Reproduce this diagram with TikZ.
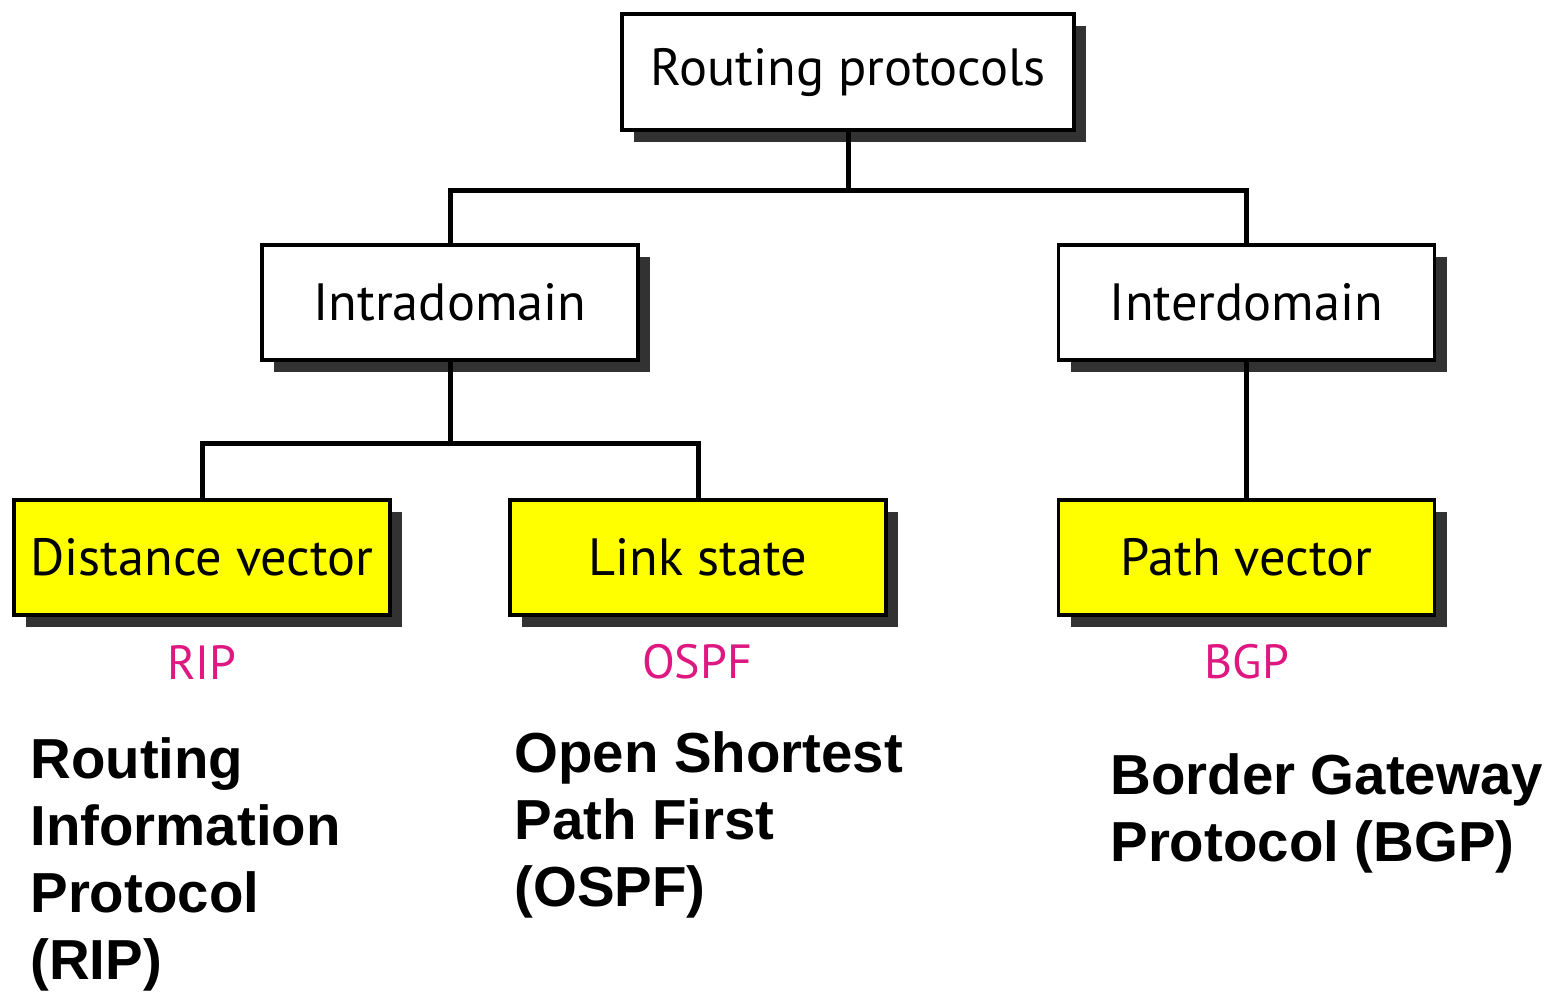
\documentclass[tikz,border=0pt]{standalone}
\usepackage{fontspec}
\setmainfont{PT Sans}
\newfontfamily\notefont{Liberation Sans}
\usetikzlibrary{shadows}
\definecolor{boxyellow}{RGB}{255,255,0}
\definecolor{protopink}{RGB}{222,24,128}
\definecolor{shadowgray}{RGB}{50,50,50}
\begin{document}
\begin{tikzpicture}[x=0.5pt,y=-0.5pt,
  box/.style={draw=black, line width=1.9pt, fill=white, inner sep=0pt,
    minimum width=188pt, minimum height=57.5pt,
    font=\fontsize{26.2pt}{30pt}\selectfont,
    drop shadow={shadow xshift=6pt, shadow yshift=-6pt, fill=shadowgray, opacity=1}},
  techbox/.style={box, fill=boxyellow},
  wire/.style={line width=2.5pt, line cap=rect},
  proto/.style={text=protopink, font=\fontsize{24pt}{28pt}\selectfont, inner sep=0pt},
  note/.style={font=\notefont\bfseries\fontsize{28.2pt}{33.5pt}\selectfont,
    align=left, anchor=north west, inner sep=0pt}]
  \useasboundingbox (0,0) rectangle (1550,992);

  % hierarchy of boxes
  \node[box, minimum width=226pt, minimum height=58pt] (root) at (848,72) {Routing protocols};
  \node[box] (intra) at (450,302.5) {Intradomain};
  \node[box] (inter) at (1246.5,302.5) {Interdomain};
  \node[techbox] (dv) at (202,557.5) {Distance vector};
  \node[techbox] (ls) at (698,557.5) {Link state};
  \node[techbox] (pv) at (1246.5,557.5) {Path vector};

  % tree connectors
  \coordinate (j1) at (848,190);
  \coordinate (j2) at (450,443);
  \draw[wire] (root.south) -- (j1);
  \draw[wire] (intra.north) |- (j1) -| (inter.north);
  \draw[wire] (intra.south) -- (j2);
  \draw[wire] (dv.north) |- (j2) -| (ls.north);
  \draw[wire] (inter.south) -- (pv.north);

  % protocol names
  \node[proto] (rip) at (202,662) {RIP};
  \node[proto] (ospf) at (697,662) {OSPF};
  \node[proto] (bgp) at (1247,662) {BGP};

  % expansions
  \node[note] (ripfull) at (30,737) {Routing\\Information\\Protocol\\(RIP)};
  \node[note] (ospffull) at (514,731) {Open Shortest\\Path First\\(OSPF)};
  \node[note] (bgpfull) at (1110,753) {Border Gateway\\Protocol (BGP)};
\end{tikzpicture}
\end{document}
